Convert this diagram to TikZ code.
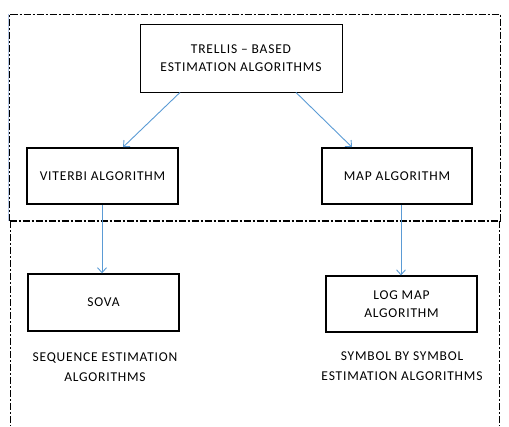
\documentclass[tikz,border=0pt]{standalone}
\usepackage{fontspec}
\setmainfont{Carlito}[LetterSpace=6]
\usetikzlibrary{arrows.meta}
\definecolor{arrowblue}{HTML}{5B9BD5}
\definecolor{edgeblue}{HTML}{B4C7E7}
\begin{document}
\begin{tikzpicture}[x=1pt,y=-1pt,
  box/.style={draw=black,rectangle,align=center,inner sep=0pt,
    font=\fontsize{13.5}{18}\selectfont},
  caption/.style={align=center,inner sep=0pt,
    font=\fontsize{13.5}{20}\selectfont},
  link/.style={draw=arrowblue,line width=0.9pt,
    -{Straight Barb[length=5pt,width=9pt]}},
  frame/.style={line width=0.8pt,dash pattern=on 7pt off 2pt on 2pt off 2pt}]
\useasboundingbox (0,0) rectangle (509,426);

% outer frame: upper region and open lower region
\draw[edgeblue,line width=1pt] (8,14) -- (8,221);
\draw[frame] (9.5,221) -- (9.5,14) -- (500,14) -- (500,221);
\draw[frame,line width=1.6pt] (9.5,221) -- (500,221);
\draw[frame] (10,221) -- (10,426);
\draw[frame] (499.5,221) -- (499.5,426);

% boxes
\node[box,line width=0.9pt,minimum width=202pt,minimum height=68pt]
  (trellis) at (241,58) {TRELLIS -- BASED\\ESTIMATION ALGORITHMS};
\node[box,line width=1.6pt,minimum width=151pt,minimum height=56pt]
  (viterbi) at (102.5,176) {VITERBI ALGORITHM};
\node[box,line width=1.6pt,minimum width=150pt,minimum height=56pt]
  (map) at (397,176) {MAP ALGORITHM};
\node[box,line width=1.4pt,minimum width=151pt,minimum height=57pt]
  (sova) at (103.5,302.5) {SOVA};
\node[box,line width=1.1pt,minimum width=151pt,minimum height=56pt]
  (logmap) at (401.5,304) {LOG MAP\\ALGORITHM};

% captions under the lower boxes
\node[caption] (seqcap) at (105,367) {SEQUENCE ESTIMATION\\ALGORITHMS};
\node[caption] (symcap) at (402,366) {SYMBOL BY SYMBOL\\ESTIMATION ALGORITHMS};

% connectors
\draw[link] ([xshift=-61pt]trellis.south) -- ([xshift=20.5pt]viterbi.north);
\draw[link] ([xshift=55pt]trellis.south) -- ([xshift=-45pt]map.north);
\draw[link] ([xshift=-0.5pt]viterbi.south) -- ([xshift=-1.5pt]sova.north);
\draw[link] ([xshift=4pt]map.south) -- ([xshift=-0.5pt]logmap.north);
\end{tikzpicture}
\end{document}
